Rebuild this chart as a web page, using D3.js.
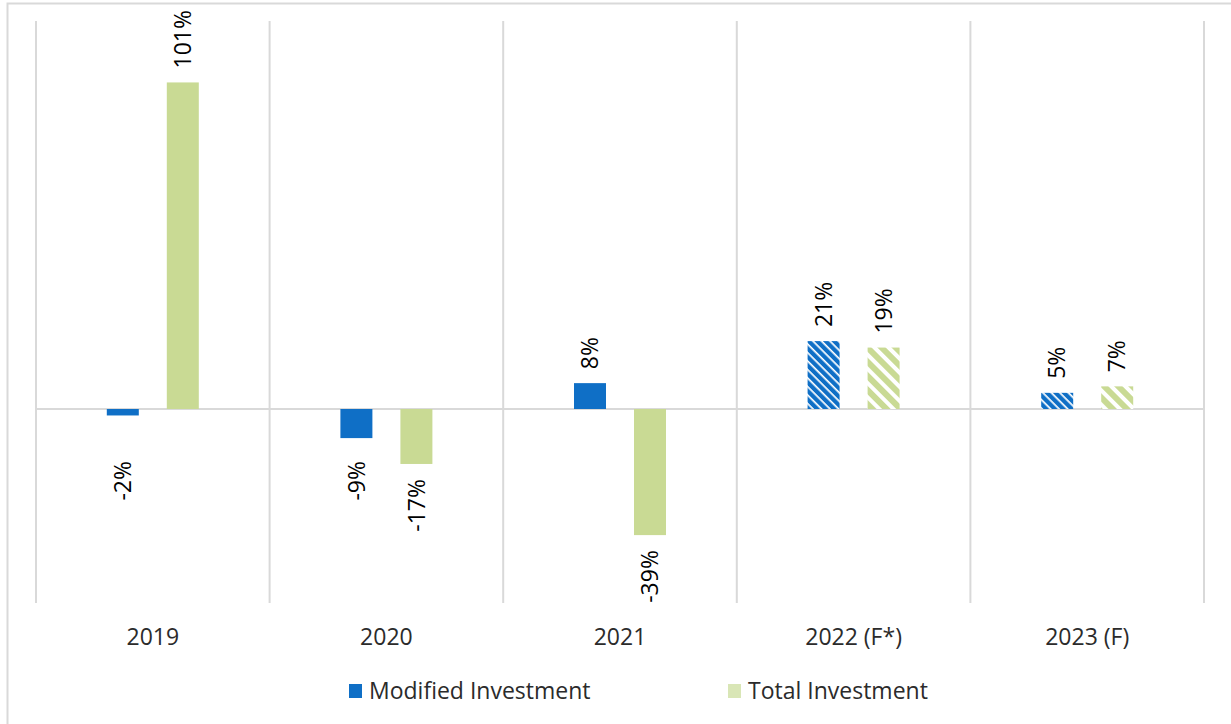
<!DOCTYPE html>
<html>
<head>
<meta charset="utf-8">
<script src="https://cdn.jsdelivr.net/npm/d3@7"></script>
<style>
  body { margin: 0; background: #fff; }
  text { font-family: "Open Sans", "Liberation Sans", sans-serif; }
</style>
</head>
<body>
<div id="chart"></div>
<script>
// chart data
var years = ["2019", "2020", "2021", "2022 (F*)", "2023 (F)"];
var seriesNames = ["Modified Investment", "Total Investment"];
var modified = [-2, -9, 8, 21, 5];
var total = [101, -17, -39, 19, 7];
var forecast = [false, false, false, true, true];

var svgWidth = 1231;
var svgHeight = 724;

var margin = { top: 21, right: 27, bottom: 121, left: 36 };
var chartWidth = svgWidth - margin.left - margin.right;
var chartHeight = svgHeight - margin.top - margin.bottom;

var colors = { "Modified Investment": "#0f6fc6", "Total Investment": "#c9da94" };

var svg = d3.select("#chart")
  .append("svg")
  .attr("width", svgWidth)
  .attr("height", svgHeight);

// outer frame (only top and left edges are visible in the picture)
svg.append("rect")
  .attr("x", 7.5)
  .attr("y", 3.5)
  .attr("width", svgWidth + 10)
  .attr("height", svgHeight + 10)
  .attr("fill", "none")
  .attr("stroke", "#d9d9d9")
  .attr("stroke-width", 2);

// hatch patterns for forecast years
var defs = svg.append("defs");
var blueHatch = defs.append("pattern")
  .attr("id", "hatch-blue")
  .attr("patternUnits", "userSpaceOnUse")
  .attr("width", 6)
  .attr("height", 6)
  .attr("patternTransform", "rotate(45)");
blueHatch.append("rect").attr("width", 6).attr("height", 6).attr("fill", "#0f6fc6");
blueHatch.append("rect").attr("width", 6).attr("height", 1.7).attr("fill", "#ffffff");

var greenHatch = defs.append("pattern")
  .attr("id", "hatch-green")
  .attr("patternUnits", "userSpaceOnUse")
  .attr("width", 10)
  .attr("height", 10)
  .attr("patternTransform", "rotate(45)");
greenHatch.append("rect").attr("width", 10).attr("height", 10).attr("fill", "#ffffff");
greenHatch.append("rect").attr("width", 10).attr("height", 6).attr("fill", "#c9da94");

var chartGroup = svg.append("g")
  .attr("transform", `translate(${margin.left}, ${margin.top})`);

// scales
var x0 = d3.scaleBand()
  .domain(years)
  .range([0, chartWidth]);

var x1 = d3.scaleBand()
  .domain(seriesNames)
  .range([0, x0.bandwidth()])
  .paddingInner(0.4667)
  .paddingOuter(1.18);

var y = d3.scaleLinear()
  .domain([-60, 120])
  .range([chartHeight, 0]);

// vertical category separators
var bounds = years.map(d => x0(d)).concat([chartWidth]);
chartGroup.selectAll(".sep")
  .data(bounds)
  .enter()
  .append("line")
  .attr("x1", d => d)
  .attr("x2", d => d)
  .attr("y1", 0)
  .attr("y2", chartHeight)
  .attr("stroke", "#d9d9d9")
  .attr("stroke-width", 2);

// zero line
chartGroup.append("line")
  .attr("x1", 0)
  .attr("x2", chartWidth)
  .attr("y1", y(0))
  .attr("y2", y(0))
  .attr("stroke", "#d9d9d9")
  .attr("stroke-width", 2);

// build rows from the arrays
var rows = [];
years.forEach(function(yr, i) {
  rows.push({ year: yr, series: seriesNames[0], value: modified[i], fc: forecast[i] });
  rows.push({ year: yr, series: seriesNames[1], value: total[i], fc: forecast[i] });
});

function barFill(d) {
  if (d.fc) {
    return d.series === seriesNames[0] ? "url(#hatch-blue)" : "url(#hatch-green)";
  }
  return colors[d.series];
}

chartGroup.selectAll(".bar")
  .data(rows)
  .enter()
  .append("rect")
  .attr("x", d => x0(d.year) + x1(d.series))
  .attr("width", x1.bandwidth())
  .attr("y", d => y(Math.max(0, d.value)))
  .attr("height", d => Math.abs(y(d.value) - y(0)))
  .attr("fill", barFill);

// data labels, rotated; negative labels keep a minimum distance below zero
chartGroup.selectAll(".lbl")
  .data(rows)
  .enter()
  .append("text")
  .attr("transform", function(d) {
    var cx = x0(d.year) + x1(d.series) + x1.bandwidth() / 2;
    var cy = d.value >= 0 ? y(d.value) - 14 : Math.max(y(d.value) + 15, y(0) + 52);
    return `translate(${cx}, ${cy}) rotate(-90)`;
  })
  .attr("text-anchor", d => d.value >= 0 ? "start" : "end")
  .attr("dy", "0.36em")
  .attr("font-size", 23)
  .attr("fill", "#000")
  .text(d => d.value + "%");

// x axis labels
var bottomAxis = d3.axisBottom(x0).tickSize(0).tickPadding(26);
var xAxis = chartGroup.append("g")
  .attr("transform", `translate(0, ${chartHeight})`)
  .call(bottomAxis);
xAxis.select(".domain").remove();
xAxis.selectAll("text")
  .attr("font-size", 23)
  .attr("fill", "#2b2b2b")
  .style("font-family", "'Open Sans', sans-serif");

// legend
var legend = svg.append("g")
  .attr("transform", "translate(349, 691)");
var legendX = [0, 379];
seriesNames.forEach(function(name, i) {
  var g = legend.append("g").attr("transform", `translate(${legendX[i]}, 0)`);
  g.append("rect")
    .attr("x", 0)
    .attr("y", -7)
    .attr("width", 13)
    .attr("height", 14)
    .attr("fill", i === 0 ? colors[name] : "#d9e6b6");
  g.append("text")
    .attr("x", 20)
    .attr("y", 0)
    .attr("dy", "0.36em")
    .attr("font-size", 23)
    .attr("fill", "#2b2b2b")
    .text(name);
});
</script>
</body>
</html>
